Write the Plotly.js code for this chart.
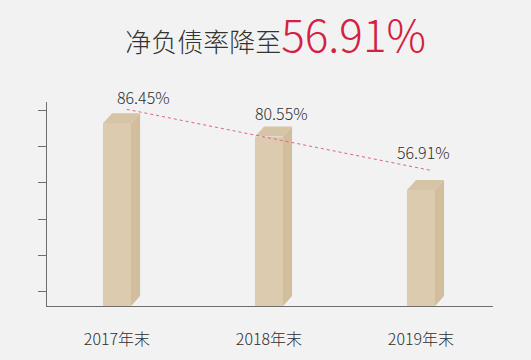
<!DOCTYPE html>
<html>
<head>
<meta charset="utf-8">
<script src="https://cdn.plot.ly/plotly-3.0.1.min.js"></script>
<style>html,body{margin:0;padding:0;background:#f2f2f2;}#chart{width:531px;height:360px;}</style>
</head>
<body>
<div id="chart"></div>
<script>
// ---- data ----
var categories = ['2017年末', '2018年末', '2019年末'];
var netDebtRatio = [86.45, 80.55, 56.91];
var valueLabels = ['86.45%', '80.55%', '56.91%'];
var titleMain = '净负债率降至';
var titleHighlight = '56.91%';
// decorative trend line (start/end in axis units)
var trendX = [0.064, 2.07];
var trendY = [92.6, 65.5];

// ---- style ----
var FONT = '"Noto Sans CJK SC", "Noto Sans", sans-serif';
var yMin = 5.5, yMax = 95.85;
var barW = 0.184, depthX = 0.06, depthY = 4.4;
var labelXShift = [27, 13, 3];
var labelYShift = [16, 14, 28];

var xs = categories.map(function (c, i) { return i; });
var traces = [];

// front faces
traces.push({
  type: 'bar', x: xs, y: netDebtRatio, width: barW,
  marker: {color: '#dccbae', line: {width: 0}},
  hoverinfo: 'skip', showlegend: false
});
// side faces and top faces
netDebtRatio.forEach(function (v, i) {
  var xr = i + barW / 2, xl = i - barW / 2;
  traces.push({
    type: 'scatter', mode: 'lines', fill: 'toself',
    x: [xr, xr, xr + depthX, xr + depthX, xr],
    y: [yMin, v, v + depthY, yMin + depthY, yMin],
    fillcolor: '#d2bd9c', line: {width: 0}, hoverinfo: 'skip', showlegend: false
  });
  traces.push({
    type: 'scatter', mode: 'lines', fill: 'toself',
    x: [xl, xr, xr + depthX, xl + depthX, xl],
    y: [v, v, v + depthY, v + depthY, v],
    fillcolor: '#d6c4a6', line: {width: 0}, hoverinfo: 'skip', showlegend: false
  });
});
// trend line
traces.push({
  type: 'scatter', mode: 'lines', x: trendX, y: trendY,
  line: {color: '#e0627f', width: 1, dash: 'dot'},
  hoverinfo: 'skip', showlegend: false
});

var annotations = netDebtRatio.map(function (v, i) {
  return {
    x: i, y: v + depthY, xref: 'x', yref: 'y', text: valueLabels[i],
    showarrow: false, xanchor: 'center', yanchor: 'middle',
    xshift: labelXShift[i], yshift: labelYShift[i],
    font: {family: FONT, size: 16, color: '#2e2e2e', weight: 300}
  };
});

var layout = {
  width: 531, height: 360,
  margin: {l: 47, r: 38, t: 102, b: 54},
  paper_bgcolor: '#f2f2f2', plot_bgcolor: 'rgba(0,0,0,0)',
  title: {
    text: '<span style="color:#333333;font-size:26px">' + titleMain + '</span>' +
          '<span style="color:#d4213f;font-size:44px">' + titleHighlight + '</span>',
    x: 0.519, xref: 'container', xanchor: 'center',
    y: 0.872, yref: 'container', yanchor: 'middle',
    font: {family: FONT, weight: 300}
  },
  xaxis: {
    range: [-0.4605, 2.474], tickvals: xs, ticktext: categories,
    showgrid: false, zeroline: false, showline: true, linecolor: '#6e6e6e', linewidth: 1,
    ticks: '', tickfont: {family: FONT, size: 16, color: '#2e2e2e', weight: 300},
    ticklabelstandoff: 19, fixedrange: true
  },
  yaxis: {
    range: [yMin, yMax], tickmode: 'linear', tick0: 12, dtick: 16,
    showticklabels: false, showgrid: false, zeroline: false,
    showline: true, linecolor: '#6e6e6e', linewidth: 1,
    ticks: 'outside', ticklen: 8, tickcolor: '#6e6e6e', tickwidth: 1, fixedrange: true
  },
  annotations: annotations,
  bargap: 0
};

Plotly.newPlot('chart', traces, layout, {displayModeBar: false, staticPlot: true});
</script>
</body>
</html>
